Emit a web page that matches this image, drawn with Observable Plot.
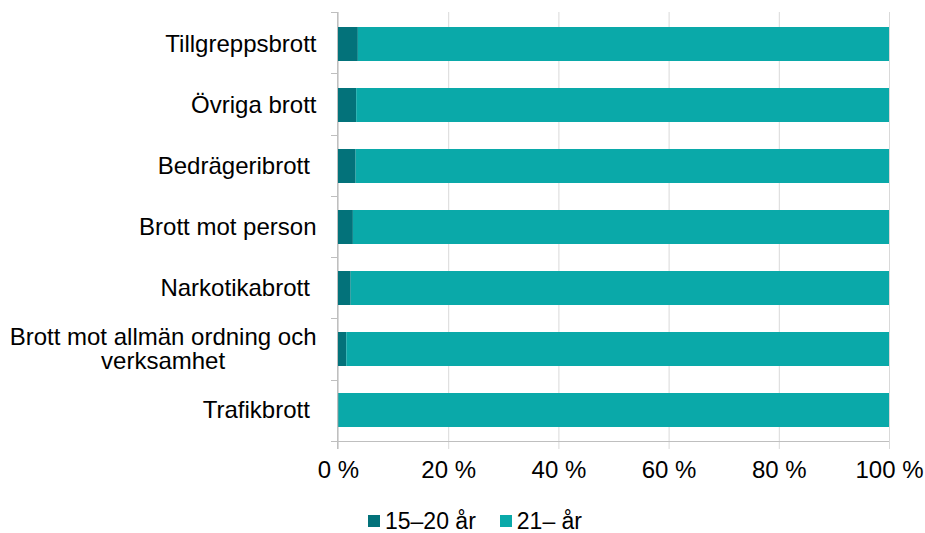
<!DOCTYPE html>
<html>
<head>
<meta charset="utf-8">
<script src="https://cdn.jsdelivr.net/npm/d3@7"></script>
<script src="https://cdn.jsdelivr.net/npm/@observablehq/plot@0.6"></script>
<style>
  body { margin: 0; background: #fff; font-family: "Liberation Sans", Arial, sans-serif; }
  #chart svg { display: block; }
  #chart svg text { white-space: pre; }
  #legend { height: 22px; line-height: 22px; font-size: 23px; display: flex; align-items: center; padding-left: 368px; color: #000; }
  #legend .sw { width: 12px; height: 12px; display: inline-block; margin-right: 5px; }
  #legend .item { display: flex; align-items: center; margin-right: 24px; height: 22px; }
</style>
</head>
<body>
<div id="chart"></div>
<div id="legend"></div>
<script>
const categories = [
  "Tillgreppsbrott",
  "Övriga brott",
  "Bedrägeribrott",
  "Brott mot person",
  "Narkotikabrott",
  "Brott mot allmän ordning och verksamhet",
  "Trafikbrott"
];
const categoryLabels = [
  "Tillgreppsbrott",
  "Övriga brott",
  "Bedrägeribrott ",
  "Brott mot person",
  "Narkotikabrott ",
  "Brott mot allmän ordning och\nverksamhet",
  "Trafikbrott "
];
const youth = [3.6, 3.3, 3.2, 2.7, 2.3, 1.5, 0.1];     // 15–20 år
const adult = [96.4, 96.7, 96.8, 97.3, 97.7, 98.5, 99.9]; // 21– år
const seriesNames = ["15–20 år", "21– år"];
const seriesColors = ["#03727a", "#0aa9a9"];
const xTicks = [0, 20, 40, 60, 80, 100];

const rows = categories.flatMap((c, i) => [
  {category: c, group: seriesNames[0], value: youth[i]},
  {category: c, group: seriesNames[1], value: adult[i]}
]);
const labelOf = new Map(categories.map((c, i) => [c, categoryLabels[i]]));

function axisLines(index, scales, values, dimensions) {
  const {width, height, marginTop, marginBottom, marginRight} = dimensions;
  const y0 = marginTop, y1 = height - marginBottom;
  const n = categories.length;
  const x0 = Math.round(scales.x(0)) - 0.5;
  const g = d3.create("svg:g").attr("stroke", "#bfbfbf").attr("stroke-width", 1).attr("shape-rendering", "crispEdges");
  for (let k = 0; k <= n; k++) {
    const y = Math.round(y0 + (y1 - y0) * k / n) + 0.5;
    g.append("line").attr("x1", x0 - 7).attr("x2", k === n ? width - marginRight : x0).attr("y1", y).attr("y2", y);
  }
  g.append("line").attr("x1", x0).attr("x2", x0).attr("y1", y0).attr("y2", y1 + 8);
  return g.node();
}

const chart = Plot.plot({
  width: 925,
  height: 510,
  marginLeft: 338,
  marginRight: 36,
  marginTop: 12,
  marginBottom: 69,
  style: {fontFamily: "'Liberation Sans', Arial, sans-serif", fontSize: "24px", color: "#000", background: "#fff"},
  x: {domain: [0, 100], label: null},
  y: {domain: categories, paddingInner: 0.445, paddingOuter: 0.2225, label: null},
  color: {domain: seriesNames, range: seriesColors},
  marks: [
    Plot.gridX(xTicks, {stroke: "#d9d9d9", strokeOpacity: 1}),
    Plot.axisX({ticks: xTicks, tickFormat: d => d + " %", tickSize: 8, tickPadding: 11, stroke: "#d9d9d9", strokeOpacity: 1, fontSize: 24, label: null}),
    Plot.barX(rows, {x: "value", y: "category", fill: "group"}),
    axisLines,
    Plot.axisY({tickSize: 0, tickPadding: 22, tickFormat: d => labelOf.get(d), fontSize: 24, lineHeight: 1, label: null})
  ]
});
document.getElementById("chart").appendChild(chart);
chart.setAttributeNS("http://www.w3.org/XML/1998/namespace", "xml:space", "preserve");

// centre the wrapped category label like the original
d3.select(chart).selectAll("g[aria-label='y-axis tick label'] text").each(function () {
  const tspans = this.querySelectorAll("tspan");
  if (tspans.length > 1) {
    const w = tspans[0].getComputedTextLength();
    this.setAttribute("text-anchor", "middle");
    const cur = this.getAttribute("x") ? +this.getAttribute("x") : 0;
    this.setAttribute("x", cur - w / 2);
    tspans.forEach(t => t.setAttribute("x", cur - w / 2));
  }
});

const legend = d3.select("#legend");
seriesNames.forEach((name, i) => {
  const item = legend.append("div").attr("class", "item");
  item.append("span").attr("class", "sw").style("background", seriesColors[i]);
  item.append("span").text(name);
});
</script>
</body>
</html>
